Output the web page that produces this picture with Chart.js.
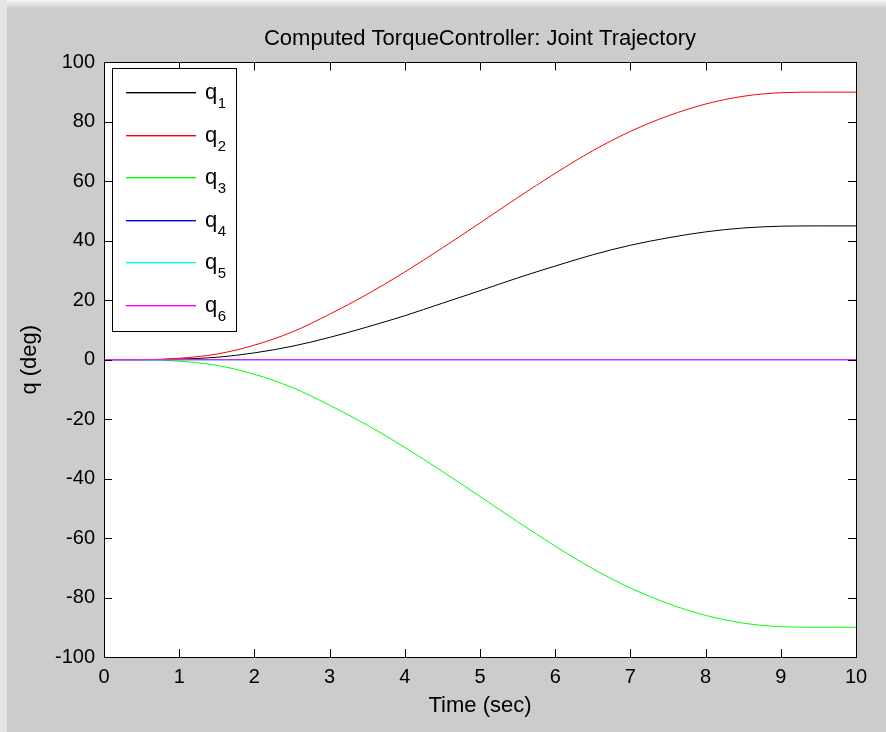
<!DOCTYPE html>
<html>
<head>
<meta charset="utf-8">
<script src="https://cdn.jsdelivr.net/npm/chart.js@4.4.0/dist/chart.umd.min.js"></script>
<style>
html,body{margin:0;padding:0;background:#cccccc;overflow:hidden;}
#wrap{width:886px;height:732px;position:relative;}
</style>
</head>
<body>
<div id="wrap"><canvas id="c" width="886" height="732"></canvas></div>
<script>
// ---- data ----
const timeSec = [0, 0.5, 1, 1.5, 2, 2.5, 3, 3.5, 4, 4.5, 5, 5.5, 6, 6.5, 7, 7.5, 8, 8.5, 9, 9.5, 10];
const q1 = [0, 0, 0.2, 0.8, 2.3, 4.5, 7.5, 11, 14.8, 19, 23.2, 27.5, 31.5, 35.3, 38.5, 41, 43, 44.3, 44.9, 45, 45];
const q2 = [0, 0, 0.5, 1.9, 4.9, 9.3, 15.3, 22, 29.5, 37.6, 46, 54.5, 62.7, 70.3, 76.8, 82, 86, 88.6, 89.8, 90, 90];
const q3 = [0, 0, -0.5, -1.9, -4.9, -9.3, -15.3, -22, -29.5, -37.6, -46, -54.5, -62.7, -70.3, -76.8, -82, -86, -88.6, -89.8, -90, -90];
const q4 = [0, 0, 0, 0, 0, 0, 0, 0, 0, 0, 0, 0, 0, 0, 0, 0, 0, 0, 0, 0, 0];
const q5 = [0, 0, 0, 0, 0, 0, 0, 0, 0, 0, 0, 0, 0, 0, 0, 0, 0, 0, 0, 0, 0];
const q6 = [0, 0, 0, 0, 0, 0, 0, 0, 0, 0, 0, 0, 0, 0, 0, 0, 0, 0, 0, 0, 0];
const seriesNames = ['q1', 'q2', 'q3', 'q4', 'q5', 'q6'];
const seriesColors = ['#000000', '#ff0000', '#00ff00', '#0000ff', '#00ffff', '#ff00ff'];
const xTickValues = [0, 1, 2, 3, 4, 5, 6, 7, 8, 9, 10];
const yTickValues = [-100, -80, -60, -40, -20, 0, 20, 40, 60, 80, 100];
const titleText = 'Computed TorqueController: Joint Trajectory';
const xLabel = 'Time (sec)';
const yLabel = 'q (deg)';

const FONT = '"Liberation Sans", Arial, sans-serif';
const allSeries = [q1, q2, q3, q4, q5, q6];

const datasets = allSeries.map((arr, i) => ({
  label: seriesNames[i],
  data: timeSec.map((t, k) => ({x: t, y: arr[k]})),
  borderColor: seriesColors[i],
  backgroundColor: seriesColors[i],
  borderWidth: 1,
  pointRadius: 0,
  fill: false,
  cubicInterpolationMode: 'monotone',
  order: allSeries.length - i
}));

const frame = {
  id: 'frame',
  beforeDraw(chart) {
    const ctx = chart.ctx, a = chart.chartArea;
    ctx.save();
    ctx.fillStyle = '#cccccc';
    ctx.fillRect(0, 0, chart.width, chart.height);
    const g = ctx.createLinearGradient(0, 0, 0, 9);
    g.addColorStop(0, '#f6f6f6'); g.addColorStop(1, '#cccccc');
    ctx.fillStyle = g;
    ctx.fillRect(0, 0, chart.width, 9);
    ctx.fillStyle = '#e4e4e4';
    ctx.fillRect(0, 0, 7, chart.height);
    ctx.fillStyle = '#ffffff';
    ctx.fillRect(a.left, a.top, a.right - a.left, a.bottom - a.top);
    ctx.restore();
  },
  afterDatasetsDraw(chart) {
    const ctx = chart.ctx, a = chart.chartArea;
    const xs = chart.scales.x, ys = chart.scales.y;
    ctx.save();
    ctx.strokeStyle = '#000000';
    ctx.lineWidth = 1;
    ctx.beginPath();
    const L = 8;
    xs.ticks.forEach(t => {
      const px = Math.round(xs.getPixelForValue(t.value)) + 0.5;
      ctx.moveTo(px, a.bottom); ctx.lineTo(px, a.bottom - L);
      ctx.moveTo(px, a.top); ctx.lineTo(px, a.top + L);
    });
    ys.ticks.forEach(t => {
      const py = Math.round(ys.getPixelForValue(t.value)) + 0.5;
      ctx.moveTo(a.left, py); ctx.lineTo(a.left + L, py);
      ctx.moveTo(a.right, py); ctx.lineTo(a.right - L, py);
    });
    ctx.stroke();
    ctx.strokeRect(Math.round(a.left) + 0.5, Math.round(a.top) + 0.5,
                   Math.round(a.right - a.left), Math.round(a.bottom - a.top));

    // legend box
    const bx = 112.5, by = 68.5, bw = 124, bh = 263;
    ctx.fillStyle = '#ffffff';
    ctx.fillRect(bx, by, bw, bh);
    ctx.strokeStyle = '#000000';
    ctx.strokeRect(bx, by, bw, bh);
    seriesNames.forEach((name, i) => {
      const ry = Math.round(92 + i * 42.6);
      ctx.fillStyle = seriesColors[i];
      ctx.fillRect(126, ry, 70, 1.4);
      ctx.fillStyle = '#000000';
      ctx.textAlign = 'left';
      ctx.textBaseline = 'alphabetic';
      ctx.font = '22px ' + FONT;
      ctx.fillText(name.charAt(0), 205, ry + 7);
      const w = ctx.measureText(name.charAt(0)).width;
      ctx.font = '15px ' + FONT;
      ctx.fillText(name.slice(1), 205 + w + 0.5, ry + 16);
    });
    ctx.restore();
  }
};

new Chart(document.getElementById('c'), {
  type: 'line',
  data: {datasets},
  plugins: [frame],
  options: {
    responsive: false,
    devicePixelRatio: 1,
    animation: false,
    layout: {padding: {left: 0, right: 30, top: 0, bottom: 0}},
    plugins: {
      legend: {display: false},
      tooltip: {enabled: false},
      title: {
        display: true,
        fullSize: false,
        text: titleText,
        color: '#000000',
        font: {family: FONT, size: 22, weight: 'normal'},
        padding: {top: 26, bottom: 10}
      }
    },
    scales: {
      x: {
        type: 'linear',
        min: 0, max: 10,
        afterBuildTicks(s) { s.ticks = xTickValues.map(v => ({value: v})); },
        afterFit(s) { s.height = 75; },
        grid: {display: false, drawTicks: false, tickLength: 0},
        border: {display: false},
        ticks: {color: '#000000', padding: 8, maxRotation: 0, autoSkip: false,
                font: {family: FONT, size: 20}},
        title: {display: true, text: xLabel, color: '#000000',
                font: {family: FONT, size: 22}, padding: {top: 0, bottom: 13}}
      },
      y: {
        type: 'linear',
        min: -100, max: 100,
        afterBuildTicks(s) { s.ticks = yTickValues.map(v => ({value: v})); },
        afterFit(s) { s.width = 104; },
        grid: {display: false, drawTicks: false, tickLength: 0},
        border: {display: false},
        ticks: {color: '#000000', padding: 9, autoSkip: false,
                font: {family: FONT, size: 20}},
        title: {display: true, text: yLabel, color: '#000000',
                font: {family: FONT, size: 22}, padding: {top: 17, bottom: 0}}
      }
    }
  }
});
</script>
</body>
</html>
